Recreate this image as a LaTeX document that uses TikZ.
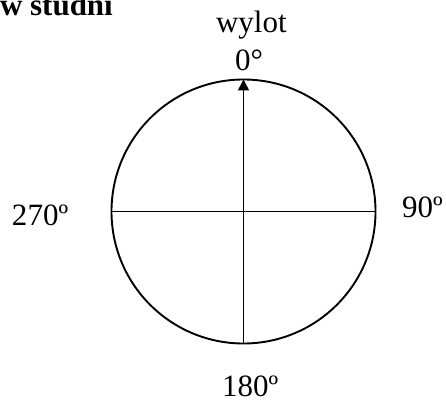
\documentclass[tikz,border=0pt]{standalone}
\usepackage{fontspec}
\setmainfont{Liberation Serif}
\usetikzlibrary{arrows.meta}

\begin{document}
\begin{tikzpicture}[x=1pt,y=-1pt,
  every node/.style={font=\fontsize{31}{37}\selectfont, inner sep=0pt, outer sep=0pt},
  dir/.style={anchor=base west},
  axis/.style={line width=1.9pt}]
\useasboundingbox (0,0) rectangle (446,401);
\clip (0,0) rectangle (446,401);
\node[dir, font=\fontsize{31}{37}\selectfont\bfseries] (title) at (0,16) {w studni};
\node[circle, draw, line width=1.9pt, minimum size=264pt] (dial) at (243.5,211.5) {};
\draw[axis] (dial.west) -- (dial.east);
\draw[axis, -{Triangle[length=11pt,width=11pt]}] (dial.south) -- (dial.north);
\node[dir] (wylot) at (216,33) {wylot};
\node[dir] (deg0) at (235,71) {0°};
\node[dir] (deg270) at (12,225) {270º};
\node[dir] (deg90) at (402,217) {90º};
\node[dir] (deg180) at (222,396) {180º};
\end{tikzpicture}
\end{document}
